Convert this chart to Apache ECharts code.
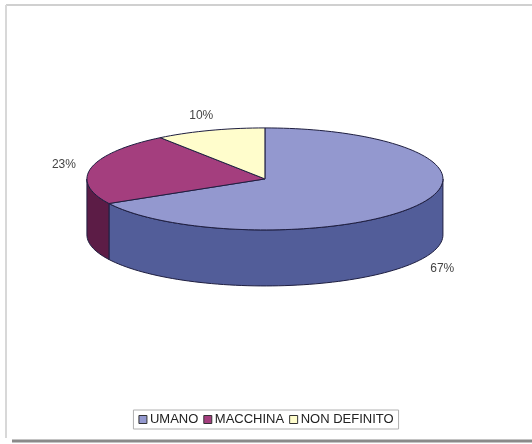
<!DOCTYPE html>
<html>
<head>
<meta charset="utf-8">
<script src="https://cdn.jsdelivr.net/npm/echarts@6/dist/echarts.min.js"></script>
<style>
  html, body { margin: 0; padding: 0; background: #fff; }
  #chart { width: 532px; height: 444px; }
</style>
</head>
<body>
<div id="chart"></div>
<script>
// Shares of the three answer categories (percent)
const categories = ['UMANO', 'MACCHINA', 'NON DEFINITO'];
const shares = [67, 23, 10];
const topColors = ['#9398cf', '#a43e7e', '#fffdcc'];
const sideColors = ['#525d99', '#5c1c46', '#c9c79a'];

const total = shares.reduce((a, b) => a + b, 0);
const startShares = shares.map((_, i) => shares.slice(0, i).reduce((a, b) => a + b, 0));

const chart = echarts.init(document.getElementById('chart'), null, { renderer: 'canvas' });

// Pie geometry: flat ellipse with a vertical wall
const geo = { cx: 0.498, cy: 0.403, rx: 178, ry: 51, depth: 56 };
const edge = '#1e1e40';

function pt(cx, cy, rx, ry, deg, dy) {
  const r = deg * Math.PI / 180;
  return [cx + rx * Math.cos(r), cy - ry * Math.sin(r) + (dy || 0)];
}

function arc(cx, cy, rx, ry, a0, a1, dy) {
  const pts = [];
  const n = Math.max(2, Math.ceil(Math.abs(a1 - a0) / 2));
  for (let k = 0; k <= n; k++) {
    pts.push(pt(cx, cy, rx, ry, a0 + (a1 - a0) * k / n, dy));
  }
  return pts;
}

function makeRender(i) {
  return function (params, api) {
    const W = api.getWidth(), H = api.getHeight();
    const cx = W * geo.cx, cy = H * geo.cy;
    const { rx, ry, depth } = geo;
    const v = api.value(0);
    // start at 12 o'clock, run clockwise
    const aStart = 90 - startShares[i] / total * 360;
    const aEnd = aStart - v / total * 360;
    const children = [];

    // outer wall: only the part facing the viewer (lower half of the ellipse)
    for (let k = -1; k <= 0; k++) {
      const lo = Math.max(aEnd, -180 + 360 * k);
      const hi = Math.min(aStart, 360 * k);
      if (lo < hi) {
        const top = arc(cx, cy, rx, ry, hi, lo, 0);
        const bottom = arc(cx, cy, rx, ry, lo, hi, depth);
        children.push({
          type: 'polygon',
          z2: 1,
          shape: { points: top.concat(bottom) },
          style: { fill: sideColors[i], stroke: edge, lineWidth: 1 }
        });
      }
    }

    // top face
    children.push({
      type: 'polygon',
      z2: 10,
      shape: { points: [[cx, cy]].concat(arc(cx, cy, rx, ry, aStart, aEnd, 0)) },
      style: { fill: topColors[i], stroke: edge, lineWidth: 1 }
    });

    // percentage label outside the rim
    const mid = (aStart + aEnd) / 2;
    const s = Math.sin(mid * Math.PI / 180);
    const lp = pt(cx, cy, rx + 28, ry + 16, mid, s < 0 ? depth : 0);
    children.push({
      type: 'text',
      z2: 20,
      x: lp[0], y: lp[1],
      style: {
        text: Math.round(v / total * 100) + '%',
        fill: '#444',
        font: '12px "Liberation Sans", Arial, sans-serif',
        align: 'center',
        verticalAlign: 'middle'
      }
    });

    return { type: 'group', children: children };
  };
}

const series = categories.map((name, i) => ({
  type: 'custom',
  name: name,
  coordinateSystem: 'none',
  silent: true,
  itemStyle: { color: topColors[i] },
  data: [[shares[i]]],
  renderItem: makeRender(i)
}));

chart.setOption({
  backgroundColor: '#ffffff',
  animation: false,
  legend: {
    data: categories,
    left: 'center',
    top: 410,
    icon: 'rect',
    itemWidth: 8,
    itemHeight: 8,
    itemGap: 5,
    padding: [3, 5, 3, 5],
    borderColor: '#b0b0b0',
    borderWidth: 1,
    selectedMode: false,
    itemStyle: { borderColor: '#333', borderWidth: 1 },
    textStyle: {
      color: '#222',
      fontSize: 13,
      fontFamily: '"Liberation Sans", Arial, sans-serif',
      padding: [0, 0, 0, -2]
    }
  },
  graphic: [
    { type: 'line', shape: { x1: 6, y1: 5, x2: 532, y2: 5 }, style: { stroke: '#d0d0d0', lineWidth: 2 } },
    { type: 'line', shape: { x1: 6, y1: 5, x2: 6, y2: 438 }, style: { stroke: '#d8d8d8', lineWidth: 2 } },
    { type: 'line', shape: { x1: 12, y1: 441, x2: 532, y2: 441 }, style: { stroke: '#8a8a8a', lineWidth: 3 } }
  ],
  series: series
});
</script>
</body>
</html>
